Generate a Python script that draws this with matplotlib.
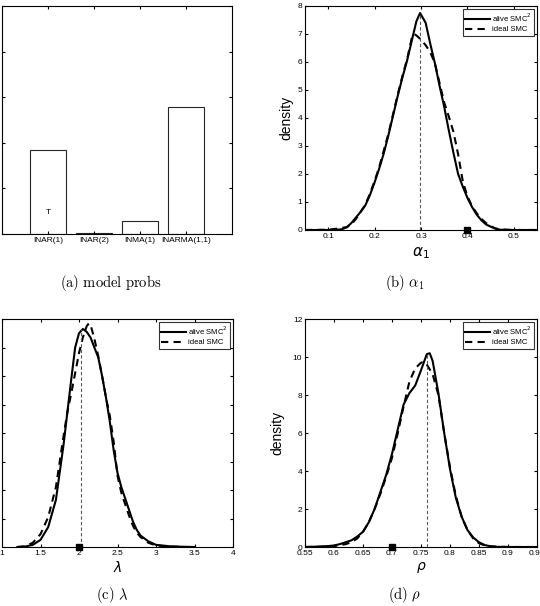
import matplotlib
matplotlib.use("Agg")
import matplotlib.pyplot as plt

# (a) model probabilities
models = ["INAR(1)", "INAR(2)", "INMA(1)", "INARMA(1,1)"]
model_probs = [0.37, 0.005, 0.057, 0.557]

# (b) alpha_1 posterior densities
a1_alive_x = [0.05, 0.10, 0.12, 0.13, 0.14, 0.15, 0.16, 0.17, 0.18, 0.19, 0.20, 0.21, 0.22, 0.23,
              0.24, 0.25, 0.26, 0.27, 0.28, 0.29, 0.298, 0.31, 0.32, 0.33, 0.34, 0.35, 0.36, 0.37,
              0.38, 0.39, 0.40, 0.41, 0.42, 0.43, 0.44, 0.45, 0.46, 0.47, 0.50, 0.55]
a1_alive_y = [0, 0, 0.01, 0.03, 0.1, 0.25, 0.45, 0.65, 0.88, 1.25, 1.7, 2.2, 2.75, 3.4,
              4.1, 4.8, 5.45, 6.05, 6.75, 7.45, 7.75, 7.4, 6.65, 5.95, 5.15, 4.4, 3.55, 2.75,
              2.0, 1.55, 1.15, 0.82, 0.55, 0.35, 0.2, 0.12, 0.05, 0.01, 0, 0]
a1_ideal_x = [0.05, 0.10, 0.12, 0.13, 0.14, 0.15, 0.16, 0.17, 0.18, 0.19, 0.20, 0.21, 0.22, 0.23,
              0.24, 0.25, 0.26, 0.27, 0.28, 0.285, 0.29, 0.30, 0.31, 0.32, 0.33, 0.34, 0.35, 0.36,
              0.37, 0.38, 0.39, 0.40, 0.41, 0.42, 0.43, 0.44, 0.45, 0.46, 0.47, 0.50, 0.55]
a1_ideal_y = [0, 0.01, 0.05, 0.08, 0.1, 0.2, 0.4, 0.65, 0.9, 1.3, 1.75, 2.25, 2.85, 3.45,
              4.15, 4.85, 5.5, 6.1, 6.85, 7.0, 6.95, 6.8, 6.6, 6.35, 5.95, 5.25, 4.55, 4.05,
              3.5, 2.7, 1.75, 1.2, 0.85, 0.6, 0.4, 0.25, 0.14, 0.06, 0.02, 0, 0]
a1_mode, a1_true = 0.298, 0.4

# (c) lambda posterior densities
lam_alive_x = [1.2, 1.3, 1.4, 1.5, 1.6, 1.7, 1.8, 1.85, 1.9, 1.95, 2.0, 2.05, 2.1, 2.15, 2.2, 2.25,
               2.3, 2.35, 2.4, 2.45, 2.5, 2.55, 2.6, 2.65, 2.7, 2.75, 2.8, 2.9, 3.0, 3.2, 3.4, 3.5]
lam_alive_y = [0, 0.003, 0.015, 0.05, 0.14, 0.33, 0.72, 0.95, 1.18, 1.4, 1.5, 1.53, 1.51, 1.47, 1.4, 1.33,
               1.2, 1.05, 0.88, 0.68, 0.52, 0.42, 0.34, 0.26, 0.18, 0.12, 0.08, 0.04, 0.015, 0.004, 0.001, 0]
lam_ideal_x = [1.2, 1.3, 1.4, 1.5, 1.6, 1.7, 1.8, 1.85, 1.9, 1.95, 2.0, 2.05, 2.1, 2.13, 2.15, 2.2, 2.25,
               2.3, 2.35, 2.4, 2.45, 2.5, 2.55, 2.6, 2.65, 2.7, 2.75, 2.8, 2.9, 3.0, 3.2, 3.4]
lam_ideal_y = [0, 0.005, 0.03, 0.09, 0.21, 0.42, 0.78, 0.95, 1.08, 1.22, 1.36, 1.47, 1.55, 1.57, 1.56, 1.46, 1.34,
               1.2, 1.05, 0.92, 0.74, 0.5, 0.38, 0.3, 0.22, 0.15, 0.1, 0.07, 0.03, 0.01, 0.003, 0]
lam_mode, lam_true = 2.02, 2.0

# (d) rho posterior densities
rho_alive_x = [0.55, 0.57, 0.59, 0.60, 0.61, 0.62, 0.63, 0.64, 0.65, 0.66, 0.67, 0.68, 0.69, 0.70, 0.71,
               0.72, 0.73, 0.74, 0.75, 0.76, 0.765, 0.77, 0.78, 0.79, 0.80, 0.81, 0.82, 0.83, 0.84, 0.85,
               0.86, 0.87, 0.88, 0.90, 0.95]
rho_alive_y = [0, 0.02, 0.05, 0.08, 0.15, 0.25, 0.35, 0.55, 0.8, 1.3, 2.0, 2.9, 3.8, 4.9, 6.2,
               7.5, 8.1, 8.5, 9.3, 10.15, 10.2, 9.8, 8.1, 6.0, 4.1, 2.6, 1.6, 0.9, 0.5, 0.25,
               0.1, 0.04, 0.01, 0, 0]
rho_ideal_x = [0.55, 0.58, 0.60, 0.61, 0.62, 0.63, 0.64, 0.65, 0.66, 0.67, 0.68, 0.69, 0.70, 0.71,
               0.72, 0.73, 0.74, 0.75, 0.755, 0.76, 0.77, 0.78, 0.79, 0.80, 0.81, 0.82, 0.83, 0.84,
               0.85, 0.86, 0.87, 0.90, 0.95]
rho_ideal_y = [0, 0.01, 0.04, 0.1, 0.15, 0.25, 0.45, 0.8, 1.3, 2.0, 2.8, 3.7, 4.7, 6.0,
               7.4, 8.7, 9.4, 9.7, 9.75, 9.6, 9.1, 8.0, 6.0, 4.2, 2.7, 1.6, 0.9, 0.45,
               0.2, 0.08, 0.03, 0, 0]
rho_mode, rho_true = 0.76, 0.7

plt.rcParams['font.family'] = ['Liberation Sans', 'DejaVu Sans']
plt.rcParams['xtick.direction'] = 'in'
plt.rcParams['ytick.direction'] = 'in'
plt.rcParams['xtick.major.size'] = 2.5
plt.rcParams['ytick.major.size'] = 2.5
plt.rcParams['xtick.labelsize'] = 6
plt.rcParams['ytick.labelsize'] = 6
plt.rcParams['axes.linewidth'] = 0.8

W, H = 540, 606
fig = plt.figure(figsize=(W / 100, H / 100), dpi=100)


def box(l, t, r, b):
    return [l / W, (H - b) / H, (r - l) / W, (b - t) / H]


def style(ax):
    ax.tick_params(top=True, right=True, pad=2)


def density_panel(ax, xa, ya, xi, yi, mode, true, xlim, ylim, yticks, xticks):
    ax.plot(xa, ya, color='black', lw=1.5, label='alive SMC$^2$')
    ax.plot(xi, yi, color='black', lw=1.5, ls=(0, (3.5, 2.5)), label='ideal SMC')
    ax.plot([mode, mode], [0, max(ya)], color='0.35', lw=0.8, ls=(0, (3, 2)))
    ax.plot([true], [0], 's', color='black', ms=4.5, clip_on=False, zorder=5)
    ax.set_xlim(*xlim)
    ax.set_ylim(*ylim)
    ax.set_xticks(xticks)
    ax.set_yticks(yticks)
    style(ax)
    leg = ax.legend(loc='upper right', fontsize=5.5, handlelength=3.2, frameon=True,
                    fancybox=False, borderpad=0.3, labelspacing=0.3, handletextpad=0.3,
                    borderaxespad=0.4)
    leg.get_frame().set_edgecolor('black')
    leg.get_frame().set_linewidth(0.8)


# (a)
ax_a = fig.add_axes(box(2, 6, 232, 234))
ax_a.bar(range(1, 5), model_probs, width=0.8, color='white', edgecolor='0.15', lw=0.8)
ax_a.set_xlim(0, 5)
ax_a.set_ylim(0, 1)
ax_a.set_xticks(range(1, 5))
ax_a.set_xticklabels(models)
ax_a.set_yticks([0, 0.2, 0.4, 0.6, 0.8, 1.0])
style(ax_a)
ax_a.tick_params(labelleft=False)  # labels fall outside the figure in the original
ax_a.text(1.0, 0.096, 'T', ha='center', va='center', fontsize=6)

# (b)
ax_b = fig.add_axes(box(305, 6, 537, 230))
density_panel(ax_b, a1_alive_x, a1_alive_y, a1_ideal_x, a1_ideal_y, a1_mode, a1_true,
              (0.05, 0.55), (0, 8), range(0, 9), [0.1, 0.2, 0.3, 0.4, 0.5])
ax_b.set_xticklabels(['0.1', '0.2', '0.3', '0.4', '0.5'])
ax_b.set_xlabel(r'$\alpha_1$', fontsize=11, math_fontfamily='dejavusans', labelpad=4)
ax_b.set_ylabel('density', fontsize=10, labelpad=3)

# (c)
ax_c = fig.add_axes(box(2, 319, 233, 547))
density_panel(ax_c, lam_alive_x, lam_alive_y, lam_ideal_x, lam_ideal_y, lam_mode, lam_true,
              (1, 4), (0, 1.6), [0, 0.2, 0.4, 0.6, 0.8, 1.0, 1.2, 1.4, 1.6],
              [1, 1.5, 2, 2.5, 3, 3.5, 4])
ax_c.set_xticklabels(['1', '1.5', '2', '2.5', '3', '3.5', '4'])
ax_c.tick_params(labelleft=False)
ax_c.set_xlabel(r'$\lambda$', fontsize=10, math_fontfamily='dejavusans', labelpad=2)

# (d)
ax_d = fig.add_axes(box(305, 319, 537, 547))
density_panel(ax_d, rho_alive_x, rho_alive_y, rho_ideal_x, rho_ideal_y, rho_mode, rho_true,
              (0.55, 0.95), (0, 12), range(0, 13, 2),
              [0.55, 0.6, 0.65, 0.7, 0.75, 0.8, 0.85, 0.9, 0.95])
ax_d.set_xticklabels(['0.55', '0.6', '0.65', '0.7', '0.75', '0.8', '0.85', '0.9', '0.95'])
ax_d.set_xlabel(r'$\rho$', fontsize=10, math_fontfamily='dejavusans', labelpad=2)
ax_d.set_ylabel('density', fontsize=10, labelpad=6)

# captions
cap = dict(ha='center', va='center', fontsize=10.5, math_fontfamily='cm')
fig.text(111 / W, 1 - 283 / H, r'$\mathrm{(a)\ model\ probs}$', **cap)
fig.text(405 / W, 1 - 283 / H, r'$\mathrm{(b)}\ \alpha_1$', **cap)
fig.text(112 / W, 1 - 595 / H, r'$\mathrm{(c)}\ \lambda$', **cap)
fig.text(405 / W, 1 - 595 / H, r'$\mathrm{(d)}\ \rho$', **cap)

fig.savefig('out.png', dpi=100)
